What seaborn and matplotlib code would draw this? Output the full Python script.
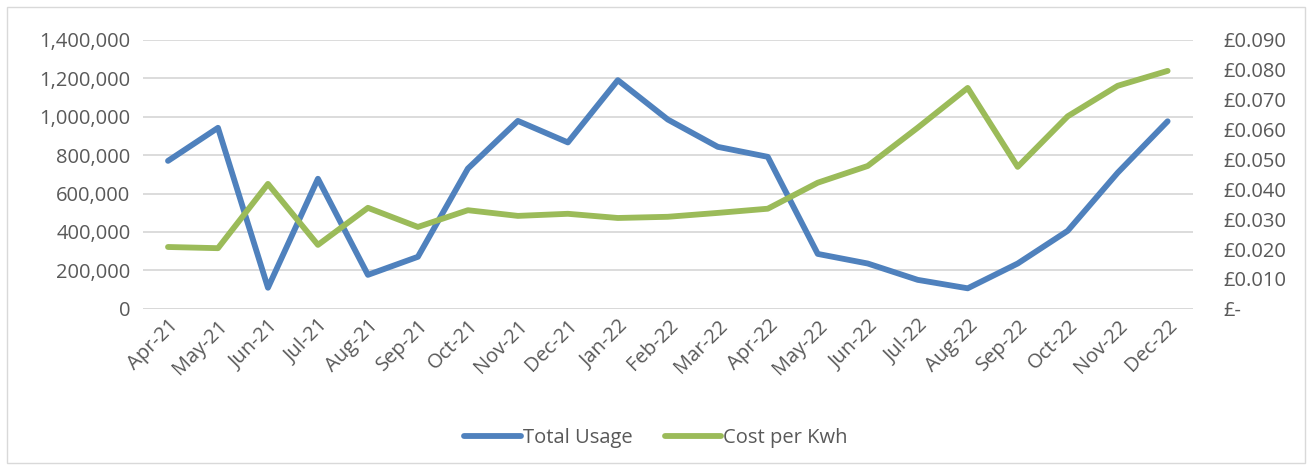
import pandas as pd
import matplotlib.pyplot as plt
import seaborn as sns
from matplotlib.ticker import FuncFormatter
from matplotlib.lines import Line2D

months = ['Apr-21', 'May-21', 'Jun-21', 'Jul-21', 'Aug-21', 'Sep-21', 'Oct-21',
          'Nov-21', 'Dec-21', 'Jan-22', 'Feb-22', 'Mar-22', 'Apr-22', 'May-22',
          'Jun-22', 'Jul-22', 'Aug-22', 'Sep-22', 'Oct-22', 'Nov-22', 'Dec-22']
total_usage = [770000, 942000, 110000, 677000, 177000, 271000, 730000,
               978000, 866000, 1190000, 985000, 843000, 791000, 286000,
               236000, 151000, 107000, 236000, 406000, 708000, 976000]
cost_per_kwh = [0.0207, 0.0203, 0.0418, 0.0214, 0.0338, 0.0274, 0.0330,
                0.0311, 0.0318, 0.0304, 0.0308, 0.0321, 0.0335, 0.0422,
                0.0478, 0.0606, 0.0739, 0.0475, 0.0644, 0.0746, 0.0796]

df = pd.DataFrame({'month': months, 'usage': total_usage, 'cost': cost_per_kwh})
df['x'] = range(len(months))

sns.set_style('white')
plt.rcParams['font.family'] = ['Open Sans', 'DejaVu Sans']
txt = '#595959'
blue = '#4F81BD'
green = '#9BBB59'
fs = 14.5

fig = plt.figure(figsize=(13.12, 4.68), dpi=100)
ax = fig.add_axes([0.109, 0.340, 0.800, 0.575])
ax2 = ax.twinx()

sns.lineplot(data=df, x='x', y='usage', ax=ax, color=blue, linewidth=4.2,
             solid_capstyle='round', solid_joinstyle='round')
sns.lineplot(data=df, x='x', y='cost', ax=ax2, color=green, linewidth=4.2,
             solid_capstyle='round', solid_joinstyle='round')

ax.set_xlim(-0.5, len(months) - 0.5)
ax.set_ylim(0, 1400000)
ax.set_yticks(range(0, 1400001, 200000))
ax.yaxis.set_major_formatter(FuncFormatter(lambda v, p: f'{int(v):,}'))
ax2.set_ylim(0, 0.09)
ax2.set_yticks([i / 1000 for i in range(0, 91, 10)])
ax2.yaxis.set_major_formatter(FuncFormatter(lambda v, p: '£-' if v == 0 else f'£{v:.3f}'))

ax.set_xticks(df['x'])
ax.set_xticklabels(months, rotation=45, ha='right', rotation_mode='anchor')
ax.grid(axis='y', color='#d9d9d9', linewidth=1.3)
ax.set_axisbelow(True)
for a in (ax, ax2):
    for s in ['top', 'left', 'right', 'bottom']:
        a.spines[s].set_visible(False)
    a.set_xlabel('')
    a.set_ylabel('')
    a.tick_params(colors=txt, labelsize=fs, length=0)
ax.axhline(0, color='#d9d9d9', linewidth=1.3, zorder=1)
# minor ticks between categories like excel
ax.set_xticks([i - 0.5 for i in range(len(months) + 1)], minor=True)
ax.tick_params(axis='x', which='minor', length=6, color='#d9d9d9', width=1.2, direction='out')
ax.tick_params(axis='x', which='major', pad=5)
ax.tick_params(axis='y', pad=9)
ax2.tick_params(axis='y', pad=22)

handles = [Line2D([0], [0], color=blue, linewidth=4.2, solid_capstyle='round'),
           Line2D([0], [0], color=green, linewidth=4.2, solid_capstyle='round')]
fig.legend(handles, ['Total Usage', 'Cost per Kwh'], loc='center', bbox_to_anchor=(0.5, 0.065),
           ncol=2, frameon=False, fontsize=fs, labelcolor=txt, handlelength=2.8,
           handletextpad=0.1, columnspacing=1.6)

fig.patches.append(plt.Rectangle((0.005, 0.01), 0.99, 0.975, transform=fig.transFigure,
                                 fill=False, edgecolor='#d9d9d9', linewidth=1))
plt.savefig('out.png', dpi=100)
